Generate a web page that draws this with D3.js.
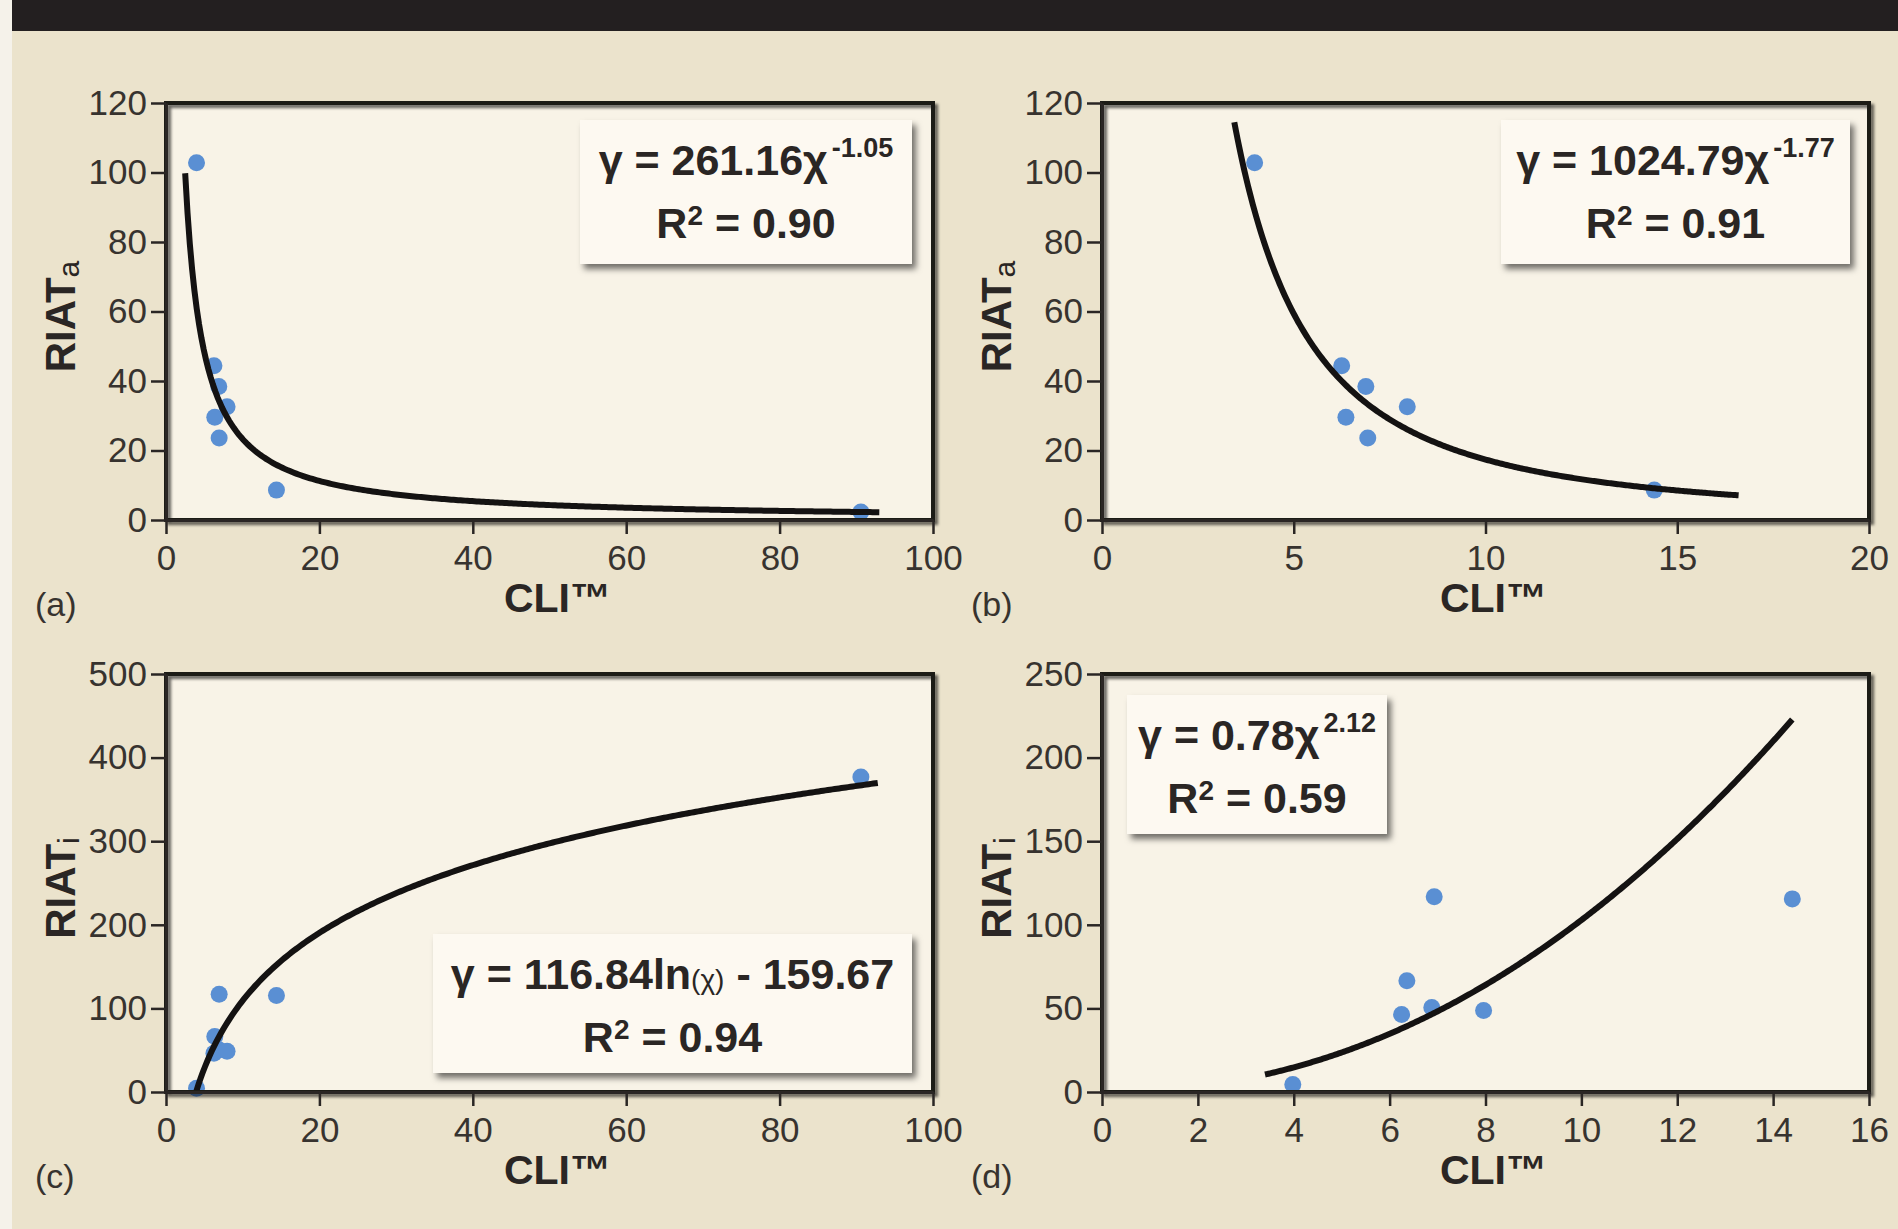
<!DOCTYPE html>
<html>
<head>
<meta charset="utf-8">
<script src="https://cdn.jsdelivr.net/npm/d3@7"></script>
<style>
  html, body { margin: 0; padding: 0; background: #ebe3cc; }
  svg { display: block; }
  .tick text { font-family: "Liberation Sans", Arial, sans-serif; font-size: 35px; fill: #37332f; }
  .tick line { stroke: #2a2624; stroke-width: 2.5; }
  .domain { stroke: #2a2624; stroke-width: 3; }
</style>
</head>
<body>
<script>
// measured values (CLI vs RIAT), one entry per patient
var cli   = [3.98, 6.25, 6.36, 6.88, 6.93, 7.96, 14.4, 90.6];
var riatA = [102.8, 44.4, 29.6, 38.4, 23.6, 32.6, 8.6, 2.3];
var riatI = [4.5, 46.3, 66.5, 50.5, 116.8, 48.8, 115.5, 376.8];

// fitted trend lines as printed in the boxes
var fitKind   = ["power", "power", "log", "power"];
var fitA      = [261.16, 1024.79, 116.84, 0.78];
var fitB      = [-1.05, -1.77, -159.67, 2.12];
var fitRange  = [[2.5, 93], [3.45, 16.6], [3.92, 92.8], [3.4, 14.4]];
var fitR2     = ["0.90", "0.91", "0.94", "0.59"];

var xTicksA = [0, 20, 40, 60, 80, 100];
var xTicksB = [0, 5, 10, 15, 20];
var xTicksD = [0, 2, 4, 6, 8, 10, 12, 14, 16];
var yTicksA = [0, 20, 40, 60, 80, 100, 120];
var yTicksC = [0, 100, 200, 300, 400, 500];
var yTicksD = [0, 50, 100, 150, 200, 250];

var panelLetters = ["(a)", "(b)", "(c)", "(d)"];

var W = 1898, H = 1229;
var svg = d3.select("body").append("svg").attr("width", W).attr("height", H);

var defs = svg.append("defs");
defs.append("filter").attr("id", "frameShadow").attr("x", "-5%").attr("y", "-5%").attr("width", "115%").attr("height", "115%")
  .append("feDropShadow").attr("dx", 3).attr("dy", 3).attr("stdDeviation", 1.5)
  .attr("flood-color", "#000").attr("flood-opacity", 0.6);
defs.append("filter").attr("id", "boxShadow").attr("x", "-10%").attr("y", "-10%").attr("width", "125%").attr("height", "130%")
  .append("feDropShadow").attr("dx", 4).attr("dy", 5).attr("stdDeviation", 3)
  .attr("flood-color", "#000").attr("flood-opacity", 0.55);

// page background, left strip and top band
svg.append("rect").attr("width", W).attr("height", H).attr("fill", "#ebe3cc");
svg.append("rect").attr("x", 0).attr("y", 0).attr("width", 12).attr("height", H).attr("fill", "#f5f2ea");
svg.append("rect").attr("x", 12).attr("y", 0).attr("width", W - 12).attr("height", 31).attr("fill", "#231f20");

var panels = [
  {left: 166, right: 933, top: 103, bottom: 520, xDom: [0, 100], xTicks: xTicksA, yDom: [0, 120], yTicks: yTicksA, ys: riatA, sub: "a",
   box: {x: 580, y: 120, w: 332, h: 144}},
  {left: 1102, right: 1869, top: 103, bottom: 520, xDom: [0, 20], xTicks: xTicksB, yDom: [0, 120], yTicks: yTicksA, ys: riatA, sub: "a",
   box: {x: 1501, y: 120, w: 349, h: 144}},
  {left: 166, right: 933, top: 674, bottom: 1092, xDom: [0, 100], xTicks: xTicksA, yDom: [0, 500], yTicks: yTicksC, ys: riatI, sub: "i",
   box: {x: 433, y: 934, w: 479, h: 139}},
  {left: 1102, right: 1869, top: 674, bottom: 1092, xDom: [0, 16], xTicks: xTicksD, yDom: [0, 250], yTicks: yTicksD, ys: riatI, sub: "i",
   box: {x: 1127, y: 695, w: 260, h: 139}}
];

function addTspans(text, parts) {
  parts.forEach(function(p) {
    var t = text.append("tspan").text(p.t);
    if (p.size) t.attr("font-size", p.size);
    if (p.weight) t.attr("font-weight", p.weight);
    if (p.dx) t.attr("dx", p.dx);
    if (p.dy) t.attr("dy", p.dy);
  });
}

panels.forEach(function(p, i) {
  var x = d3.scaleLinear().domain(p.xDom).range([p.left, p.right]);
  var y = d3.scaleLinear().domain(p.yDom).range([p.bottom, p.top]);
  var g = svg.append("g");

  // plot area
  g.append("rect").attr("x", p.left).attr("y", p.top)
    .attr("width", p.right - p.left).attr("height", p.bottom - p.top)
    .attr("fill", "#f8f3e7");

  // points
  var pts = cli.map(function(c, k) { return {x: c, y: p.ys[k]}; })
    .filter(function(d) { return d.x <= p.xDom[1] && d.y <= p.yDom[1]; });
  g.selectAll("circle").data(pts).enter().append("circle")
    .attr("cx", function(d) { return x(d.x); })
    .attr("cy", function(d) { return y(d.y); })
    .attr("r", 8.5)
    .attr("fill", "#5a8fd3");

  // trend line from the printed equation
  var a = fitA[i], b = fitB[i];
  var f = fitKind[i] === "power"
    ? function(v) { return a * Math.pow(v, b); }
    : function(v) { return a * Math.log(v) + b; };
  var r = fitRange[i];
  var xs = d3.range(r[0], r[1], (r[1] - r[0]) / 300).concat([r[1]]);
  var line = d3.line()
    .x(function(v) { return x(v); })
    .y(function(v) { return y(f(v)); });
  g.append("path").datum(xs)
    .attr("d", line)
    .attr("fill", "none")
    .attr("stroke", "#141212")
    .attr("stroke-width", 6);

  // frame
  g.append("rect").attr("x", p.left).attr("y", p.top)
    .attr("width", p.right - p.left).attr("height", p.bottom - p.top)
    .attr("fill", "none").attr("stroke", "#1c1a18").attr("stroke-width", 4)
    .attr("filter", "url(#frameShadow)");

  // axes
  g.append("g").attr("transform", "translate(" + p.left + ",0)")
    .call(d3.axisLeft(y).tickValues(p.yTicks).tickSize(15).tickSizeOuter(0).tickPadding(4));
  g.append("g").attr("transform", "translate(0," + p.bottom + ")")
    .call(d3.axisBottom(x).tickValues(p.xTicks).tickSize(14).tickSizeOuter(0).tickPadding(11));

  // axis titles
  g.append("text")
    .attr("x", (p.left + p.right) / 2 + 8).attr("y", p.bottom + 92)
    .attr("text-anchor", "middle")
    .attr("font-family", "Liberation Sans, Arial, sans-serif")
    .attr("font-weight", "bold").attr("font-size", 41).attr("fill", "#2a2624")
    .text("CLI™");

  var ytx = p.left - 91, yty = (p.top + p.bottom) / 2 + 5;
  var yt = g.append("text")
    .attr("transform", "translate(" + ytx + "," + yty + ") rotate(-90)")
    .attr("text-anchor", "middle")
    .attr("font-family", "Liberation Sans, Arial, sans-serif")
    .attr("font-weight", "bold").attr("font-size", 42).attr("fill", "#2a2624");
  addTspans(yt, [{t: "RIAT"}, {t: p.sub, size: 30, weight: "normal", dy: 4}]);

  // panel letter
  g.append("text")
    .attr("x", p.left - 131).attr("y", p.bottom + 96)
    .attr("font-family", "Liberation Sans, Arial, sans-serif")
    .attr("font-size", 34).attr("fill", "#37332f")
    .text(panelLetters[i]);

  // equation box
  var bx = p.box;
  g.append("rect").attr("x", bx.x).attr("y", bx.y).attr("width", bx.w).attr("height", bx.h)
    .attr("fill", "#fdf9f1").attr("filter", "url(#boxShadow)");

  var eq = g.append("text")
    .attr("x", bx.x + bx.w / 2).attr("y", bx.y + 55)
    .attr("text-anchor", "middle")
    .attr("font-family", "Liberation Sans, Arial, sans-serif")
    .attr("font-weight", "bold").attr("font-size", 43).attr("fill", "#2a2624");
  if (fitKind[i] === "power") {
    addTspans(eq, [
      {t: "γ = " + a.toFixed(2) + "χ"},
      {t: b.toFixed(2), size: 27, dx: 4, dy: -18}
    ]);
  } else {
    addTspans(eq, [
      {t: "γ = " + a.toFixed(2) + "ln"},
      {t: "(χ)", size: 28, weight: "normal"},
      {t: " - " + Math.abs(b).toFixed(2)}
    ]);
  }

  var r2 = g.append("text")
    .attr("x", bx.x + bx.w / 2).attr("y", bx.y + 118)
    .attr("text-anchor", "middle")
    .attr("font-family", "Liberation Sans, Arial, sans-serif")
    .attr("font-weight", "bold").attr("font-size", 43).attr("fill", "#2a2624");
  addTspans(r2, [
    {t: "R"},
    {t: "2", size: 28, dy: -13},
    {t: " = " + fitR2[i], dy: 13}
  ]);
});
</script>
</body>
</html>
